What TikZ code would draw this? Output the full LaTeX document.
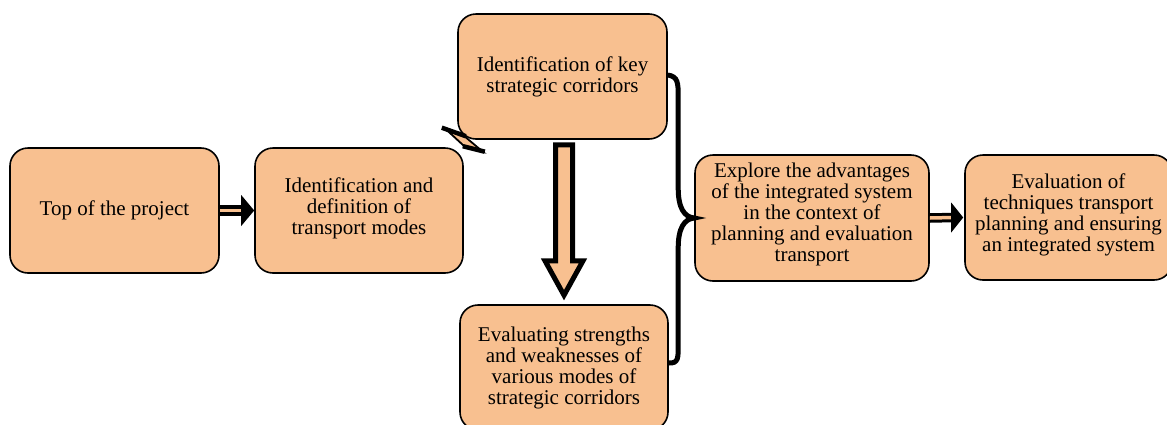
\documentclass[tikz,border=0pt]{standalone}
\usepackage{fontspec}
\setmainfont{Liberation Serif}
\usetikzlibrary{calc}
\definecolor{boxfill}{RGB}{248,192,144}
\begin{document}
\begin{tikzpicture}[x=1pt,y=-1pt,
  box/.style={draw=black, line width=1.6pt, fill=boxfill, rounded corners=18pt,
    minimum height=125pt, inner sep=0pt, align=center,
    font=\fontsize{21}{21}\selectfont},
  boxtext/.style={align=center, font=\fontsize{21}{21}\selectfont, inner sep=0pt},
  shaft/.style={draw=black, line width=3.6pt, double=boxfill, double distance=3.5pt},
  headtip/.style={fill=black},
  blockarrow/.style={draw=black, line width=5pt, fill=boxfill, miter limit=20},
  brace/.style={draw=black, line width=5pt}]
\useasboundingbox (0,0) rectangle (1167,424);
\node[box, minimum width=209pt] (b1) at (114.5,210.5) {Top of the project};
\node[box, minimum width=208pt,
  label={[boxtext, yshift=2pt]center:Identification and\\definition of\\transport modes}] (b2) at (359,210.5) {};
\node[box, minimum width=209pt] (b3) at (562.5,76.5) {Identification of key\\strategic corridors};
\node[box, minimum width=208pt] (b4) at (564,367.5) {Evaluating strengths\\and weaknesses of\\various modes of\\strategic corridors};
\node[box, minimum width=234pt, minimum height=126pt,
  label={[boxtext, yshift=4pt]center:Explore the advantages\\of the integrated system\\in the context of\\planning and evaluation\\transport}] (b5) at (812,218) {};
\node[box, minimum width=207pt,
  label={[boxtext, yshift=3pt]center:Evaluation of\\techniques transport\\planning and ensuring\\an integrated system}] (b6) at (1068.5,217.5) {};
% small arrows b1 -> b2
\draw[shaft] (b1.east) -- ($(b2.west)+(-11,0)$);
\fill[headtip] (b2.west) -- ($(b2.west)+(-13,-15.5)$) -- ($(b2.west)+(-13,15.5)$) -- cycle;
% b5 -> b6
\draw[shaft, line width=3pt] (b5.east) -- ($(b6.west)+(-11,0)$);
\fill[headtip] ($(b6.west)+(-1,0)$) -- ($(b6.west)+(-13,-15)$) -- ($(b6.west)+(-13,15)$) -- cycle;
% big down arrow
\coordinate (s) at (b3.south -| b4.north);
\coordinate (t) at (b4.north);
\draw[blockarrow] ($(s)+(-8.5,5)$) -- ($(s)+(8.5,5)$) -- ($(s)+(8.5,121)$) -- ($(s)+(19,121)$)
  -- ($(t)+(0,-9)$) -- ($(s)+(-19,121)$) -- ($(s)+(-8.5,121)$) -- cycle;
% small connector between b2 and b3 corners
\coordinate (c1) at ($(b2.north east)+(-10,-15)$);
\coordinate (c2) at ($(b2.north east)+(10,2.5)$);
\draw[draw=black, line width=1.8pt, fill=boxfill] ($(c1)+(-8,-3)$) -- ($(c1)+(10,3.5)$) -- ($(c2)+(9,2)$) -- ($(c2)+(-9,-3)$) -- cycle;
\draw[black, line width=4.5pt] ($(c1)+(-12,-4.5)$) -- ($(c1)+(12,4)$);
\draw[black, line width=4.5pt] ($(c2)+(-11,-3.5)$) -- ($(c2)+(11,2)$);
% brace
\coordinate (k) at ($(b5.west)+(-16,0)$);
\draw[brace] ($(b3.east)+(0,-1.5)$) .. controls ($(b3.east)+(10,0)$) and ($(b3.east -| k)+(0,6)$) .. ($(b3.east -| k)+(0,20)$)
  -- ($(b5.west -| k)+(0,-30)$) .. controls ($(b5.west -| k)+(0,-10)$) and ($(b5.west)+(-10,-1)$) .. (b5.west)
  .. controls ($(b5.west)+(-10,1)$) and ($(b5.west -| k)+(0,10)$) .. ($(b5.west -| k)+(0,30)$)
  -- ($(b4.east -| k)+(0,-24)$) .. controls ($(b4.east -| k)+(0,-10)$) and ($(b4.east)+(10,-4)$) .. ($(b4.east)+(0,-4.5)$);
\end{tikzpicture}
\end{document}
